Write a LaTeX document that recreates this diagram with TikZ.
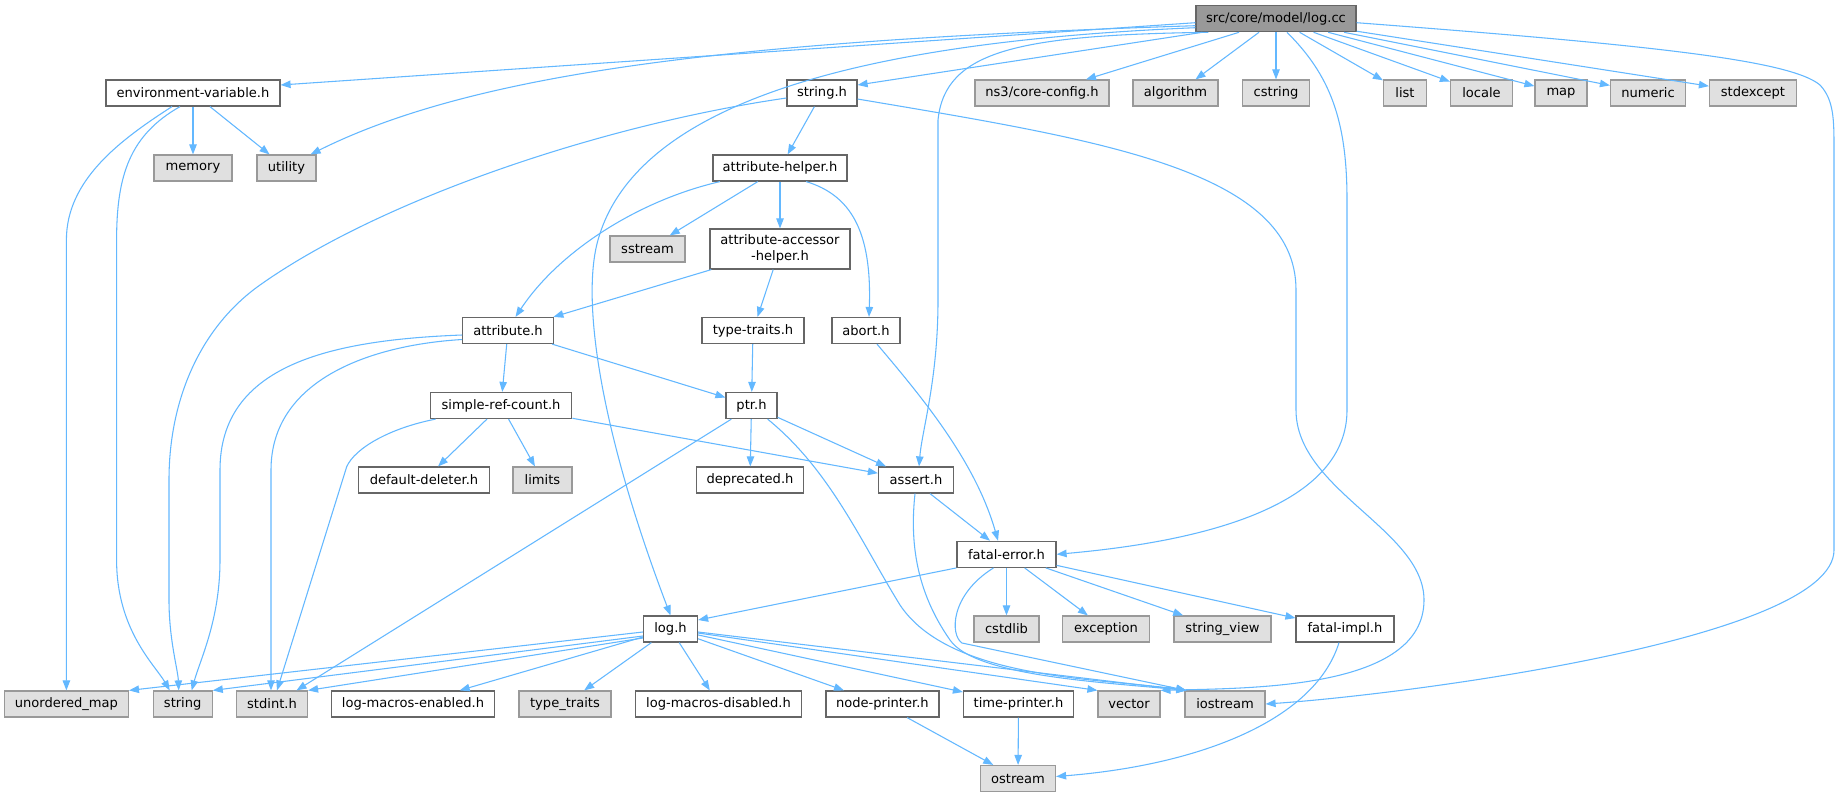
\documentclass[tikz,border=0pt]{standalone}
\usepackage{fontspec}
\setmainfont{DejaVu Sans}
\usetikzlibrary{arrows.meta,calc}
\definecolor{edgec}{HTML}{63B8FF}
\definecolor{hdrb}{HTML}{666666}
\definecolor{sysf}{HTML}{E0E0E0}
\definecolor{sysb}{HTML}{999999}
\definecolor{rootf}{HTML}{999999}
\tikzset{
  bw/.style={minimum width=#1*0.75pt},
  basebox/.style={rectangle, inner sep=0pt, minimum height=19.5pt, line width=0.9pt,
    font=\fontsize{9.8pt}{11.5pt}\selectfont, text=black, align=center},
  hdr/.style={basebox, draw=hdrb, fill=white},
  sys/.style={basebox, draw=sysb, fill=sysf},
  root/.style={basebox, draw=hdrb, fill=rootf},
  edge/.style={draw=edgec, line width=0.8pt, -{Triangle[length=7.5pt,width=5.6pt]}}
}
\begin{document}
\begin{tikzpicture}[x=0.75pt,y=-0.75pt]
\useasboundingbox (0,0) rectangle (1841,797);
\fill[white] (0,0) rectangle (1841,797);
% nodes
\node[root, bw=160] (logcc) at (1276,18.7) {src/core/model/log.cc};
\node[hdr, bw=174] (envvar) at (193,93) {environment-variable.h};
\node[hdr, bw=70] (stringh) at (822,93) {string.h};
\node[sys, bw=134] (nscore) at (1042,93) {ns3/core-config.h};
\node[sys, bw=85] (algorithm) at (1175.5,93) {algorithm};
\node[sys, bw=67] (cstring) at (1276,93) {cstring};
\node[sys, bw=43] (list) at (1405,93) {list};
\node[sys, bw=62] (locale) at (1481.5,93) {locale};
\node[sys, bw=52] (map) at (1561,93) {map};
\node[sys, bw=75] (numeric) at (1648,93) {numeric};
\node[sys, bw=87] (stdexcept) at (1753,93) {stdexcept};
\node[sys, bw=78] (memory) at (193,168) {memory};
\node[sys, bw=59] (utility) at (286.5,168) {utility};
\node[hdr, bw=134] (attrhelper) at (780,168) {attribute-helper.h};
\node[sys, bw=75] (sstream) at (647.5,249) {sstream};
\node[hdr, bw=140, minimum height=30pt] (attracc) at (780,249) {attribute-accessor\\-helper.h};
\node[hdr, bw=90.5] (attribute) at (508,330.5) {attribute.h};
\node[hdr, bw=102] (typetraits) at (753,330.5) {type-traits.h};
\node[hdr, bw=68] (abort) at (866,330.5) {abort.h};
\node[hdr, bw=141.5] (simpleref) at (501,405.5) {simple-ref-count.h};
\node[hdr, bw=51] (ptr) at (751.5,405.5) {ptr.h};
\node[hdr, bw=131] (defdel) at (424,480) {default-deleter.h};
\node[sys, bw=59] (limits) at (542.5,480) {limits};
\node[hdr, bw=107] (deprecated) at (750,480) {deprecated.h};
\node[hdr, bw=75] (assert) at (916,480) {assert.h};
\node[hdr, bw=99] (fatalerror) at (1006.5,554.3) {fatal-error.h};
\node[hdr, bw=54] (logh) at (670.5,629) {log.h};
\node[sys, bw=65] (cstdlib) at (1006.5,629) {cstdlib};
\node[sys, bw=86.5] (exception) at (1106,629) {exception};
\node[sys, bw=97] (stringview) at (1222.5,629) {string\_view};
\node[hdr, bw=98] (fatalimpl) at (1345,629) {fatal-impl.h};
\node[sys, bw=124] (umap) at (66.4,704) {unordered\_map};
\node[sys, bw=59] (string) at (182.7,704) {string};
\node[sys, bw=71] (stdint) at (272,704) {stdint.h};
\node[hdr, bw=163.6] (logmacen) at (413,704) {log-macros-enabled.h};
\node[sys, bw=92] (typetr) at (565,704) {type\_traits};
\node[hdr, bw=166] (logmacdis) at (718.5,704) {log-macros-disabled.h};
\node[hdr, bw=113] (nodeprinter) at (882.4,704) {node-printer.h};
\node[hdr, bw=110] (timeprinter) at (1018.5,704) {time-printer.h};
\node[sys, bw=62] (vector) at (1129,704) {vector};
\node[sys, bw=80] (iostream) at (1225,704) {iostream};
\node[sys, bw=75] (ostream) at (1018,778.5) {ostream};
% edges from log.cc
\draw[edge] ($(logcc.west)+(0,4)$) -- ($(envvar.east)+(0,-8)$);
\draw[edge] ($(logcc.west)+(0,7)$) .. controls (750,40) and (480,70) .. ($(utility.north east)+(-6,0)$);
\draw[edge] ($(logcc.south west)+(7,0)$) -- ($(stringh.east)+(0,-8)$);
\draw[edge] ($(logcc.west)+(0,9)$) .. controls (900,40) and (640,90) .. (598,240) .. controls (581,300) and (600,430) .. (logh.north);
\draw[edge] ($(logcc.south west)+(13,0)$) .. controls (1020,35) and (945,50) .. (938,120) -- (938,300) .. controls (938,380) and (922,430) .. ($(assert.north)+(3,0)$);
\draw[edge] ($(logcc.south)+(-37,0)$) -- ($(nscore.north)+(44,0)$);
\draw[edge] ($(logcc.south)+(-17,0)$) -- ($(algorithm.north)+(20,0)$);
\draw[edge] (logcc) -- (cstring);
\draw[edge] ($(logcc.south)+(11,0)$) .. controls (1330,75) and (1347,120) .. (1347,200) -- (1347,410) .. controls (1347,500) and (1220,540) .. (fatalerror.east);
\draw[edge] (logcc) -- (list);
\draw[edge] (logcc) -- (locale);
\draw[edge] (logcc) -- (map);
\draw[edge] (logcc) -- (numeric);
\draw[edge] (logcc) -- (stdexcept);
\draw[edge] ($(logcc.east)+(0,4)$) .. controls (1650,45) and (1790,60) .. (1820,85) .. controls (1834,100) and (1834,120) .. (1834,150) -- (1834,550) .. controls (1834,640) and (1400,695) .. (iostream.east);
% environment-variable.h
\draw[edge] (envvar) -- (memory);
\draw[edge] (envvar) -- (utility);
\draw[edge] ($(envvar.south)+(-21,0)$) .. controls (120,140) and (66.4,180) .. (66.4,240) -- (umap.north);
\draw[edge] ($(envvar.south)+(-13,0)$) .. controls (130,135) and (116.6,175) .. (116.6,240) -- (116.6,560) .. controls (116.6,630) and (155,665) .. ($(string.north)+(-13,0)$);
% string.h
\draw[edge] (stringh) -- (attrhelper);
\draw[edge] ($(stringh.west)+(0,5)$) .. controls (600,125) and (380,200) .. (260,285) .. controls (200,327.5) and (169,400) .. (169,480) -- (169,600) .. controls (169,640) and (178,670) .. ($(string.north)+(-4,0)$);
\draw[edge] (stringh) .. controls (1100,140) and (1296,170) .. (1296,290) -- (1296,410) .. controls (1296,490) and (1424,530) .. (1424,600) .. controls (1424,690) and (1250,688) .. (vector.north east);
% attribute-helper.h
\draw[edge] (attrhelper) -- (sstream);
\draw[edge] (attrhelper) -- (attracc);
\draw[edge] ($(attrhelper.south west)+(7.6,0)$) .. controls (640,200) and (560,250) .. ($(attribute.north)+(7.5,0)$);
\draw[edge] ($(attrhelper.south east)+(-41.4,0)$) .. controls (850,195) and (872,230) .. ($(abort.north)+(3,0)$);
% attribute-accessor-helper.h
\draw[edge] (attracc) -- (attribute);
\draw[edge] (attracc) -- (typetraits);
\draw[edge] (typetraits) -- (ptr);
% attribute.h
\draw[edge] (attribute) -- (simpleref);
\draw[edge] (attribute) -- (ptr);
\draw[edge] ($(attribute.west)+(0,4.5)$) .. controls (330,340) and (220,365) .. (220,470) -- (220,560) .. controls (220,620) and (200,660) .. ($(string.north)+(9,0)$);
\draw[edge] ($(attribute.west)+(0,9)$) .. controls (370,345) and (271,380) .. (271,470) -- ($(stdint.north)+(-1,0)$);
% simple-ref-count.h
\draw[edge] (simpleref) -- (defdel);
\draw[edge] (simpleref) -- (limits);
\draw[edge] (simpleref) -- (assert);
\draw[edge] ($(simpleref.south west)+(6,0)$) .. controls (390,428) and (355,448) .. (346.7,466.7) -- ($(stdint.north)+(5,0)$);
% ptr.h
\draw[edge] (ptr) -- (deprecated);
\draw[edge] (ptr) -- (assert);
\draw[edge] ($(ptr.south west)+(6,0)$) -- ($(stdint.north)+(24.5,0)$);
\draw[edge] ($(ptr.south east)+(-10,0)$) .. controls (830,470) and (860,540) .. (900,605) .. controls (950,680) and (1100,678) .. ($(iostream.north west)+(2,0)$);
% abort.h, assert.h
\draw[edge] ($(abort.south)+(11,0)$) .. controls (920,395) and (975,460) .. ($(fatalerror.north)+(-8.5,0)$);
\draw[edge] ($(assert.south)+(14,0)$) -- ($(fatalerror.north)+(-16.5,0)$);
\draw[edge] ($(assert.south)+(-1,0)$) .. controls (910,540) and (915,590) .. (950,640) .. controls (975,676) and (1100,682) .. ($(iostream.north west)+(2,0)$);
% fatal-error.h
\draw[edge] (fatalerror.south west) -- ($(logh.east)+(0,-9)$);
\draw[edge] (fatalerror) -- (cstdlib);
\draw[edge] (fatalerror) -- (exception);
\draw[edge] (fatalerror) -- (stringview);
\draw[edge] (fatalerror) -- (fatalimpl);
\draw[edge] ($(fatalerror.south)+(-13,0)$) .. controls (950,595) and (950,635) .. (962,643) -- ($(iostream.north west)+(2,0)$);
\draw[edge] ($(fatalimpl.south)+(-6,0)$) .. controls (1315,720) and (1200,765) .. ($(ostream.east)+(0,-2)$);
% log.h
\draw[edge] ($(logh.west)+(0,3)$) -- (umap.north east);
\draw[edge] ($(logh.west)+(0,7)$) -- (string.north east);
\draw[edge] ($(logh.west)+(0,9)$) -- (stdint.north east);
\draw[edge] (logh) -- (logmacen);
\draw[edge] (logh) -- (typetr);
\draw[edge] (logh) -- (logmacdis);
\draw[edge] (logh) -- (nodeprinter);
\draw[edge] (logh) -- (timeprinter);
\draw[edge] ($(logh.east)+(0,4)$) -- (vector.north west);
\draw[edge] ($(logh.east)+(0,3)$) -- ($(iostream.north west)+(2,0)$);
% printers
\draw[edge] (nodeprinter) -- (ostream);
\draw[edge] (timeprinter) -- (ostream);
\end{tikzpicture}
\end{document}
